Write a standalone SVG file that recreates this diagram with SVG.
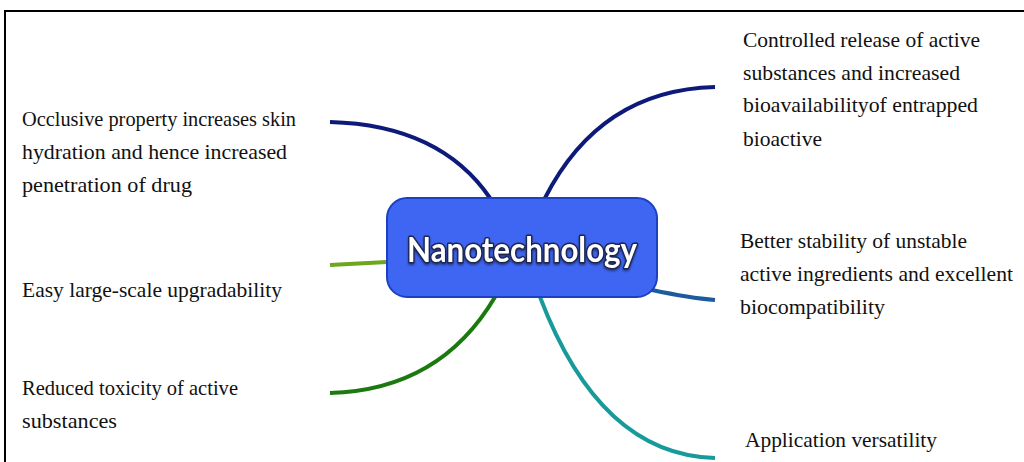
<svg xmlns="http://www.w3.org/2000/svg" width="1024" height="462" viewBox="0 0 1024 462">
  <style>
    .lbl { font-family: "Liberation Serif", "Times New Roman", serif; font-size: 22px; fill: #111; }
    .conn { fill: none; stroke-width: 4; stroke-linecap: butt; }
    .center-text { font-family: Lato, "Open Sans", sans-serif; font-weight: bold; font-size: 34px; fill: #ffffff; stroke: #1b2550; stroke-width: 3; paint-order: stroke; stroke-linejoin: round; }
  </style>
  <defs>
    <filter id="shadow" x="-10%" y="-10%" width="120%" height="130%">
      <feDropShadow dx="0" dy="1.5" stdDeviation="1" flood-color="#000" flood-opacity="0.5"/>
    </filter>
  </defs>
  <rect x="0" y="0" width="1024" height="462" fill="#ffffff"/>
  <rect x="5" y="11" width="1040" height="470" fill="none" stroke="#000" stroke-width="2"/>

  <g id="connectors">
    <path class="conn" d="M330,122 Q440,125 490,198" stroke="#0d1a7a"/>
    <path class="conn" d="M545,198 Q600,90 715,87" stroke="#0d1a7a"/>
    <path class="conn" d="M330,265 L387,262" stroke="#6ea61e"/>
    <path class="conn" d="M652,290 Q690,298 715,300" stroke="#1c5b9c"/>
    <path class="conn" d="M495,297 Q440,390 330,393" stroke="#1b7a0e"/>
    <path class="conn" d="M540,297 Q600,455 715,458" stroke="#199a9a"/>
  </g>

  <g id="center">
    <rect x="387" y="198" width="270" height="99" rx="20" ry="20" fill="#3f66f2" stroke="#1d3fc4" stroke-width="2"/>
    <text class="center-text" x="522" y="262" text-anchor="middle" textLength="230" lengthAdjust="spacingAndGlyphs" filter="url(#shadow)">Nanotechnology</text>
  </g>

  <g id="occlusive">
    <text class="lbl" x="22" y="126" textLength="274" lengthAdjust="spacingAndGlyphs">Occlusive property increases skin</text>
    <text class="lbl" x="22" y="159" textLength="265" lengthAdjust="spacingAndGlyphs">hydration and hence increased</text>
    <text class="lbl" x="22" y="192" textLength="170" lengthAdjust="spacingAndGlyphs">penetration of drug</text>
  </g>

  <g id="upgradability">
    <text class="lbl" x="22" y="297" textLength="260" lengthAdjust="spacingAndGlyphs">Easy large-scale upgradability</text>
  </g>

  <g id="toxicity">
    <text class="lbl" x="22" y="395" textLength="216" lengthAdjust="spacingAndGlyphs">Reduced toxicity of active</text>
    <text class="lbl" x="22" y="428" textLength="95" lengthAdjust="spacingAndGlyphs">substances</text>
  </g>

  <g id="controlled-release">
    <text class="lbl" x="743" y="47" textLength="237" lengthAdjust="spacingAndGlyphs">Controlled release of active</text>
    <text class="lbl" x="743" y="80" textLength="217" lengthAdjust="spacingAndGlyphs">substances and increased</text>
    <text class="lbl" x="743" y="112" textLength="235" lengthAdjust="spacingAndGlyphs">bioavailabilityof entrapped</text>
    <text class="lbl" x="743" y="146" textLength="79" lengthAdjust="spacingAndGlyphs">bioactive</text>
  </g>

  <g id="stability">
    <text class="lbl" x="740" y="248" textLength="227" lengthAdjust="spacingAndGlyphs">Better stability of unstable</text>
    <text class="lbl" x="740" y="281" textLength="273" lengthAdjust="spacingAndGlyphs">active ingredients and excellent</text>
    <text class="lbl" x="740" y="314" textLength="145" lengthAdjust="spacingAndGlyphs">biocompatibility</text>
  </g>

  <g id="versatility">
    <text class="lbl" x="745" y="447" textLength="192" lengthAdjust="spacingAndGlyphs">Application versatility</text>
  </g>
</svg>
